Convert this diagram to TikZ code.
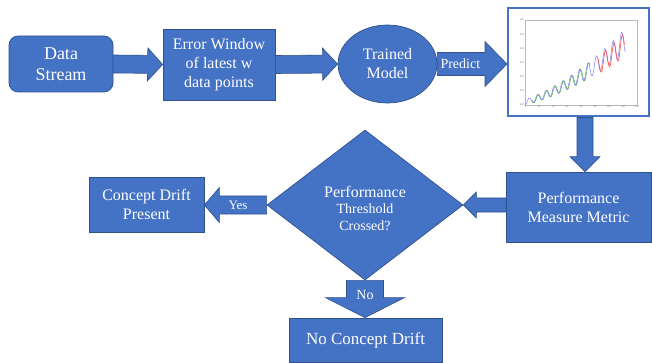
\documentclass[tikz,border=0pt]{standalone}
\usepackage{fontspec}
\setmainfont{Liberation Serif}
\newfontfamily\tnr{Liberation Serif}
\usetikzlibrary{shapes.geometric,calc}
\definecolor{fillc}{HTML}{4472C4}
\definecolor{bdr}{HTML}{2F528F}
\definecolor{plotblue}{HTML}{7B7BFF}
\definecolor{plotgreen}{HTML}{4CA64C}
\definecolor{plotred}{HTML}{FF4A4A}
\tikzset{
  box/.style={draw=bdr, fill=fillc, text=white, line width=0.7pt, align=center, inner sep=0pt},
  arrowstyle/.style={draw=bdr, fill=fillc, line width=0.6pt, line join=miter},
  lbl/.style={text=white, inner sep=0pt, align=center},
  ticklbl/.style={font=\sffamily\fontsize{2.6}{3}\selectfont, text=gray, inner sep=0.8pt},
  declare function={pass(\t)=(118+1.6*\t+0.01*\t*\t)*(1+0.16*sin(30*(\t-3)));}
}
\newcommand\blockarrow[5]{%
  \path (#1) coordinate (baS) (#2) coordinate (baE);
  \coordinate (baH) at ($(baE)!#5!(baS)$);
  \draw[arrowstyle] ($(baS)!#3!90:(baE)$) -- ($(baH)!#3!-90:(baS)$) -- ($(baH)!#4!-90:(baS)$) -- (baE) -- ($(baH)!#4!90:(baS)$) -- ($(baH)!#3!90:(baS)$) -- ($(baS)!#3!-90:(baE)$) -- cycle;
}
\begin{document}
\begin{tikzpicture}[x=1pt,y=-1pt]
\useasboundingbox (0,0) rectangle (652,363);

% nodes
\node[box, rounded corners=9pt, minimum width=104, minimum height=56, font=\tnr\fontsize{18}{21.5}\selectfont] (ds) at (61,64) {Data\\Stream};
\node[box, minimum width=112, minimum height=71, font=\tnr\fontsize{16}{19}\selectfont] (ew) at (219,64.5) {Error Window\\of latest w\\data points};
\node[box, ellipse, minimum width=99, minimum height=78, font=\tnr\fontsize{16}{19}\selectfont] (tm) at (387.5,64) {Trained\\Model};
\node[draw=fillc, fill=white, line width=2pt, minimum width=141, minimum height=108, inner sep=0pt] (chart) at (578.5,62.5) {};
\node[box, minimum width=145, minimum height=70, font=\tnr\fontsize{16}{19}\selectfont] (pmm) at (578.5,207) {Performance\\Measure Metric};
\node[box, diamond, minimum width=196, minimum height=150] (dm) at (365,205) {};
\node[lbl, font=\tnr\fontsize{14}{16.5}\selectfont] (dmt) at (365,208) {{\fontsize{16}{16.5}\selectfont Performance}\\Threshold\\Crossed?};
\node[box, minimum width=115, minimum height=55, font=\tnr\fontsize{16}{19}\selectfont] (cdp) at (146.5,204.5) {Concept Drift\\Present};
\node[box, minimum width=153, minimum height=44, font=\tnr\fontsize{17}{19}\selectfont] (ncd) at (365.5,340) {No Concept Drift};

% chart contents
\begin{scope}[shift={(525,105)}, x=0.7pt, y=0.14167pt]
  \draw[gray!55, line width=0.3pt] (0,0) rectangle (160,600);
  \foreach \v in {100,200,...,700} \node[ticklbl, anchor=east] (yl\v) at (0,{\v-100}) {\v};
  \foreach \v in {0,20,...,160} \node[ticklbl, anchor=north] (xl\v) at (\v,0) {\v};
  \draw[plotblue, line width=0.5pt] plot[domain=0:143, samples=144] (\x, {pass(\x)-100});
  \draw[plotgreen, line width=0.5pt] plot[domain=10:93, samples=84] (\x, {pass(\x-1)-100});
  \draw[plotred, line width=0.6pt] plot[domain=104:142, samples=39] (\x, {0.97*pass(\x-1)-100});
\end{scope}

% block arrows
\blockarrow{ds.east}{ew.west}{9pt}{16.5pt}{15pt}
\blockarrow{ew.east}{tm.west}{9pt}{16pt}{15pt}
\blockarrow{tm.east}{tm.east -| chart.west}{11.5pt}{22.5pt}{22pt}
\blockarrow{[xshift=6.5pt]chart.south}{[xshift=6.5pt]pmm.north}{8pt}{15pt}{15pt}
\blockarrow{dm.east -| pmm.west}{dm.east}{7pt}{13pt}{13pt}
\blockarrow{dm.west}{dm.west -| cdp.east}{9pt}{17.5pt}{15pt}
\blockarrow{dm.south}{dm.south |- ncd.north}{18.5pt}{39.5pt}{20pt}

% arrow labels
\node[lbl, font=\tnr\fontsize{14}{16}\selectfont] (lp) at ($(tm.east)!0.33!(tm.east -| chart.west)$) {Predict};
\node[lbl, font=\tnr\fontsize{13}{15}\selectfont] (ly) at ($(dm.west)!0.46!(dm.west -| cdp.east)$) {Yes};
\node[lbl, font=\tnr\fontsize{14}{16}\selectfont] (ln) at ($(dm.south)!0.4!(dm.south |- ncd.north)$) {No};
\end{tikzpicture}
\end{document}
